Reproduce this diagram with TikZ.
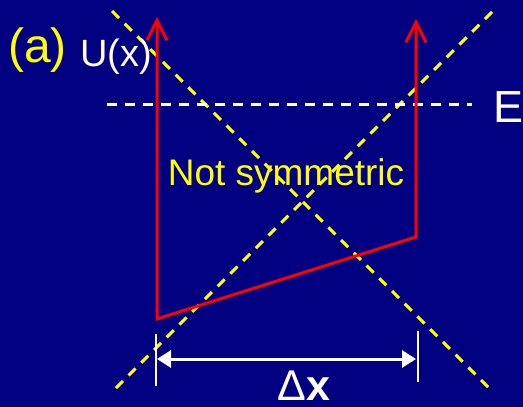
\documentclass[tikz,border=0pt]{standalone}
\usepackage{xcolor}
\usepackage{fontspec}
\setmainfont{Liberation Sans}
\usetikzlibrary{arrows.meta}
\definecolor{slideNavy}{RGB}{0,0,128}
\definecolor{slideYellow}{RGB}{255,255,0}
\definecolor{wallRed}{RGB}{255,0,0}
\tikzset{
  wall/.style={draw=wallRed,line width=3pt,line join=miter,
               {Straight Barb[length=20pt,width=20pt]}-{Straight Barb[length=20pt,width=20pt]}},
  guide/.style={draw=slideYellow,line width=3pt,dash pattern=on 10pt off 8pt},
  level/.style={draw=white,line width=3pt,dash pattern=on 10pt off 8pt},
  tick/.style={draw=white,line width=2.5pt},
  dim/.style={draw=white,line width=3pt,{Triangle[length=14pt,width=17pt]}-{Triangle[length=14pt,width=17pt]}},
  lbl/.style={inner sep=0pt,text=white},
}

\begin{document}
\begin{tikzpicture}[x=1pt,y=-1pt]
  %% ── Slide background ────────────────────────────────────────────────────
  \fill[slideNavy] (0,0) rectangle (523,407);
  \useasboundingbox (0,0) rectangle (523,407);

  %% ── Key points ──────────────────────────────────────────────────────────
  \coordinate (ltop) at (157,17);
  \coordinate (lbot) at (157,319);
  \coordinate (rbot) at (416,237);
  \coordinate (rtop) at (416,19);
  \coordinate (eL)   at (107,104);
  \coordinate (eR)   at (472,104);
  \coordinate (gA1)  at (112,11);
  \coordinate (gA2)  at (490,389);
  \coordinate (gB1)  at (492,12);
  \coordinate (gB2)  at (116,388);

  %% ── Symmetry guides and energy level ────────────────────────────────────
  \draw[guide] (gA1)--(gA2);
  \draw[guide] (gB1)--(gB2);
  \draw[level] (eL)--(eR);

  %% ── Potential well ──────────────────────────────────────────────────────
  \draw[wall] (ltop)--(lbot)--(rbot)--(rtop);

  %% ── Width marker ────────────────────────────────────────────────────────
  \coordinate (tL1) at (156,334);
  \coordinate (tL2) at (156,386);
  \coordinate (tR1) at (418,331);
  \coordinate (tR2) at (418,382);
  \draw[tick] (tL1)--(tL2);
  \draw[tick] (tR1)--(tR2);
  \coordinate (dL) at (157,359);
  \coordinate (dR) at (416,359);
  \draw[dim] (dL)--(dR);

  %% ── Labels ──────────────────────────────────────────────────────────────
  \node[lbl,text=slideYellow,anchor=base west,font=\fontsize{48}{50}\selectfont] (tag) at (8,62) {(a)};
  \node[lbl,anchor=base west,font=\fontsize{38}{40}\selectfont] (ulabel) at (80,66) {U(x)};
  \node[lbl,anchor=base west,font=\fontsize{45}{48}\selectfont] (elabel) at (493,122) {E};
  \node[lbl,text=slideYellow,anchor=base,font=\fontsize{37}{40}\selectfont] (note) at (286,185) {Not symmetric};
  \node[lbl,anchor=base,font=\fontsize{43}{46}\selectfont] (width) at (304,400) {Δ\textbf{x}};
\end{tikzpicture}
\end{document}
